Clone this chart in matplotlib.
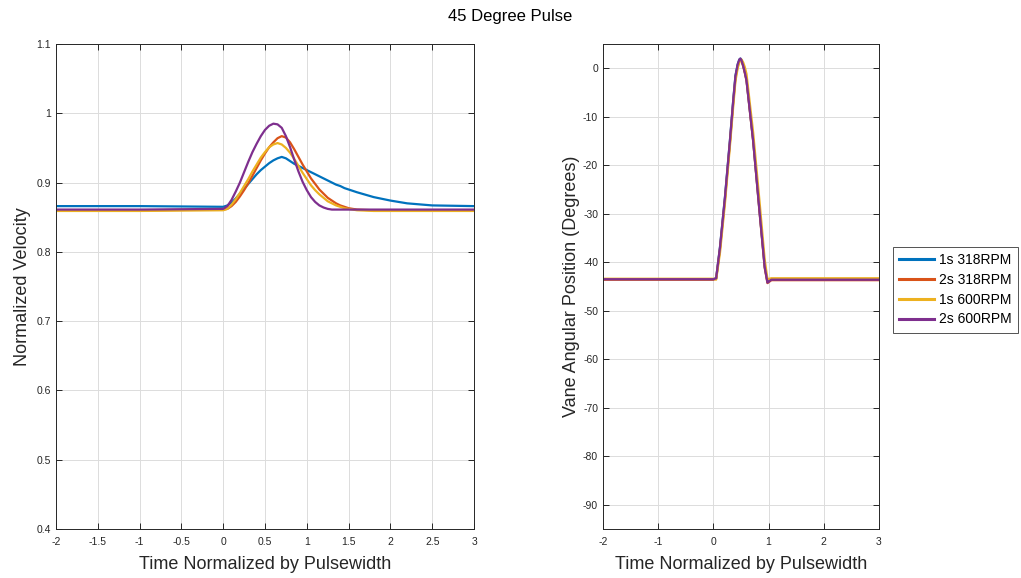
import numpy as np
import matplotlib
matplotlib.use('Agg')
import matplotlib.pyplot as plt

plt.rcParams['font.family'] = ['Liberation Sans', 'DejaVu Sans']
plt.rcParams['axes.unicode_minus'] = False

# Series labels and MATLAB-style colours
labels = ['1s 318RPM', '2s 318RPM', '1s 600RPM', '2s 600RPM']
colors = ['#0072BD', '#D95319', '#EDB120', '#7E2F8E']

# Left panel: normalized velocity vs normalized time
t_vel = [-2, -1,
         0.0, 0.05, 0.1, 0.15, 0.2, 0.25, 0.3, 0.35, 0.4, 0.45,
         0.5, 0.55, 0.6, 0.65, 0.7, 0.75, 0.8, 0.85, 0.9, 0.95,
         1.0, 1.05, 1.1, 1.15, 1.2, 1.25, 1.3, 1.35, 1.4, 1.45, 1.5,
         1.6, 1.8, 2.0, 2.2, 2.5, 3.0]
vel_1s_318 = [0.866, 0.866,
              0.865, 0.867, 0.871, 0.877, 0.884, 0.891, 0.898, 0.905, 0.912, 0.918,
              0.923, 0.928, 0.932, 0.935, 0.937, 0.935, 0.931, 0.927, 0.924, 0.921,
              0.918, 0.915, 0.912, 0.909, 0.906, 0.903, 0.900, 0.897, 0.895, 0.892, 0.890,
              0.886, 0.879, 0.874, 0.870, 0.867, 0.866]
vel_2s_318 = [0.860, 0.860,
              0.861, 0.862, 0.866, 0.872, 0.880, 0.889, 0.899, 0.910, 0.921, 0.932,
              0.942, 0.951, 0.958, 0.964, 0.967, 0.965, 0.958, 0.948, 0.937, 0.926,
              0.916, 0.906, 0.898, 0.890, 0.884, 0.878, 0.874, 0.870, 0.867, 0.865, 0.863,
              0.861, 0.860, 0.860, 0.860, 0.860, 0.860]
vel_1s_600 = [0.859, 0.859,
              0.860, 0.862, 0.868, 0.876, 0.885, 0.895, 0.905, 0.916, 0.926, 0.936,
              0.944, 0.951, 0.955, 0.957, 0.955, 0.950, 0.943, 0.934, 0.924, 0.914,
              0.905, 0.896, 0.889, 0.883, 0.878, 0.873, 0.870, 0.867, 0.865, 0.863, 0.862,
              0.860, 0.859, 0.859, 0.859, 0.859, 0.859]
vel_2s_600 = [0.861, 0.861,
              0.862, 0.866, 0.875, 0.887, 0.900, 0.915, 0.930, 0.944, 0.956, 0.967,
              0.976, 0.982, 0.985, 0.984, 0.979, 0.967, 0.951, 0.933, 0.916, 0.901,
              0.889, 0.879, 0.872, 0.867, 0.864, 0.862, 0.861, 0.861, 0.861, 0.861, 0.861,
              0.861, 0.861, 0.861, 0.861, 0.861, 0.861]

# Right panel: vane angular position vs normalized time
t_pos = [-2, 0, 0.05, 0.12, 0.21, 0.30, 0.36, 0.40, 0.44, 0.47, 0.49, 0.51,
         0.54, 0.57, 0.60, 0.72, 0.84, 0.93, 0.98, 1.05, 3]
pos_1s_318 = [-43.5, -43.5, -43.3, -36.8, -26.5, -14.8, -6.5, -1.5, 0.8, 1.8, 2.0, 1.7,
              0.6, -0.8, -2.4, -14.8, -29.9, -40.9, -44.1, -43.6, -43.6]
pos_2s_318 = [-43.6, -43.6, -43.4, -37.2, -27.0, -15.3, -7.0, -2.0, 0.4, 1.5, 1.8, 1.5,
              0.4, -1.0, -2.6, -15.0, -30.2, -41.2, -44.3, -43.7, -43.7]
pos_1s_600 = [-43.4, -43.4, -43.6, -38.0, -27.8, -16.0, -7.8, -2.6, 0.0, 1.2, 1.7, 1.8,
              1.2, 0.2, -1.2, -13.2, -28.0, -39.5, -43.5, -43.3, -43.3]
pos_2s_600 = [-43.5, -43.5, -43.3, -36.9, -26.6, -14.9, -6.6, -1.6, 0.8, 1.8, 2.0, 1.6,
              0.5, -0.9, -2.5, -14.9, -30.0, -41.0, -44.2, -43.6, -43.6]

vel_series = [vel_1s_318, vel_2s_318, vel_1s_600, vel_2s_600]
pos_series = [pos_1s_318, pos_2s_318, pos_1s_600, pos_2s_600]

fig = plt.figure(figsize=(10.21, 5.78), dpi=100)
ax1 = fig.add_axes([0.0548, 0.0848, 0.4095, 0.8391])
ax2 = fig.add_axes([0.5906, 0.0848, 0.2703, 0.8391])

for ax in (ax1, ax2):
    ax.grid(True, color='#dcdcdc', linewidth=0.7)
    ax.set_axisbelow(True)
    ax.tick_params(direction='in', top=True, right=True, labelsize=7.5,
                   colors='#262626', length=4, width=0.7)
    ax.tick_params(axis='x', pad=6)
    for sp in ax.spines.values():
        sp.set_color('#262626')
        sp.set_linewidth(0.7)
    ax.set_xlabel('Time Normalized by Pulsewidth', fontsize=13,
                  color='#262626', labelpad=6)

for vals, c, lab in zip(vel_series, colors, labels):
    ax1.plot(t_vel, vals, color=c, linewidth=1.6, label=lab)
ax1.set_xlim(-2, 3)
ax1.set_ylim(0.4, 1.1)
ax1.set_xticks(np.arange(-2, 3.01, 0.5))
ax1.set_xticklabels(['-2', '-1.5', '-1', '-0.5', '0', '0.5', '1', '1.5', '2', '2.5', '3'])
ax1.set_yticks([0.4, 0.5, 0.6, 0.7, 0.8, 0.9, 1.0, 1.1])
ax1.set_yticklabels(['0.4', '0.5', '0.6', '0.7', '0.8', '0.9', '1', '1.1'])
ax1.set_ylabel('Normalized Velocity', fontsize=13, color='#262626')

for vals, c, lab in zip(pos_series, colors, labels):
    ax2.plot(t_pos, vals, color=c, linewidth=1.6, label=lab)
ax2.set_xlim(-2, 3)
ax2.set_ylim(-95, 5)
ax2.set_xticks([-2, -1, 0, 1, 2, 3])
ax2.set_yticks(np.arange(-90, 1, 10))
ax2.set_ylabel('Vane Angular Position (Degrees)', fontsize=13,
               color='#262626', labelpad=2)

leg = ax2.legend(loc='upper left', bbox_to_anchor=(1.05, 0.582), fontsize=10,
                 frameon=True, fancybox=False, edgecolor='#262626',
                 handlelength=2.5, borderpad=0.45, labelspacing=0.42,
                 handletextpad=0.4, borderaxespad=0)
leg.get_frame().set_linewidth(0.7)
for line in leg.get_lines():
    line.set_linewidth(2.2)

fig.text(0.5, 0.972, '45 Degree Pulse', ha='center', va='center', fontsize=12)

fig.savefig('out.png', dpi=100)
